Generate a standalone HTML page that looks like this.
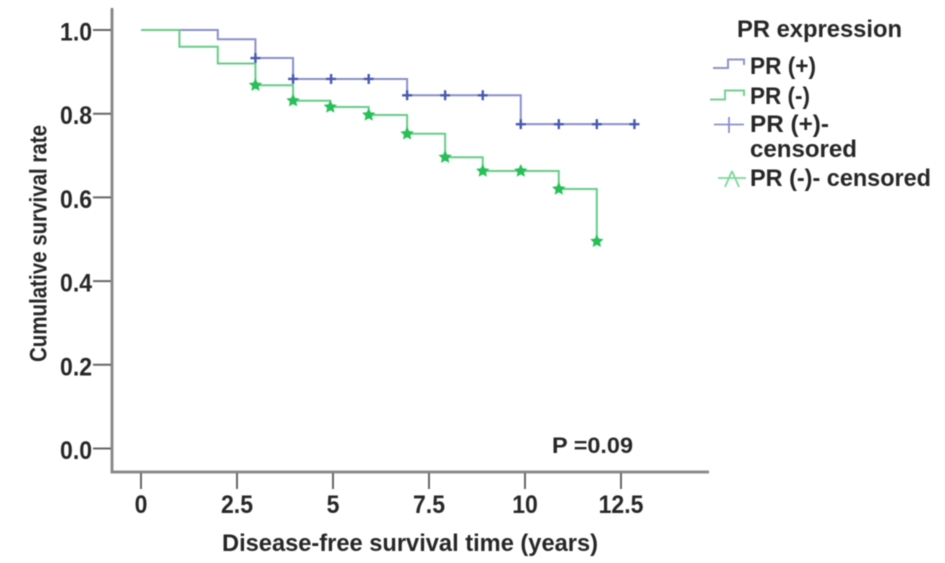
<!DOCTYPE html>
<html>
<head>
<meta charset="utf-8">
<title>Disease-free survival by PR expression</title>
<style>
html,body{margin:0;padding:0;background:#fff;width:945px;height:563px;overflow:hidden}
svg{display:block}
text{font-family:"Liberation Sans",sans-serif;font-weight:bold;fill:#262626}
</style>
</head>
<body>
<svg id="chart" width="945" height="563" viewBox="0 0 945 563" xmlns="http://www.w3.org/2000/svg">
  <defs><filter id="soft" x="-5%" y="-5%" width="110%" height="110%"><feGaussianBlur stdDeviation="0.6"/></filter></defs>
  <g id="root" filter="url(#soft)">
    <g id="axes"></g>
    <g id="series"></g>
    <text transform="translate(46.5,362) rotate(-90)" font-size="24" textLength="237" lengthAdjust="spacingAndGlyphs">Cumulative survival rate</text>
    <text x="222" y="551" font-size="24" textLength="376" lengthAdjust="spacingAndGlyphs">Disease-free survival time (years)</text>
    <text x="552" y="453" font-size="22" textLength="81" lengthAdjust="spacingAndGlyphs">P =0.09</text>
    <g>
      <text x="737" y="37" font-size="24" textLength="165" lengthAdjust="spacingAndGlyphs">PR expression</text>
      <path d="M713 68H728V59.5H744V65" fill="none" stroke="#8f93cc" stroke-width="2"/>
      <text x="750" y="74" font-size="24" textLength="66" lengthAdjust="spacingAndGlyphs">PR (+)</text>
      <path d="M710 99.5H725V90.5H744V96" fill="none" stroke="#74cf92" stroke-width="2"/>
      <text x="750" y="104" font-size="24" textLength="60" lengthAdjust="spacingAndGlyphs">PR (-)</text>
      <path d="M714 124.5H744M729 117V133" fill="none" stroke="#8a90cc" stroke-width="1.8"/>
      <text font-size="24"><tspan x="750" y="132" textLength="79" lengthAdjust="spacingAndGlyphs">PR (+)-</tspan><tspan x="750" y="157" textLength="107" lengthAdjust="spacingAndGlyphs">censored</tspan></text>
      <path d="M718 178H746M732 171L725 187M732 171L739 187" fill="none" stroke="#7cd898" stroke-width="1.8"/>
      <text x="750" y="186" font-size="24" textLength="181" lengthAdjust="spacingAndGlyphs">PR (-)- censored</text>
    </g>
  </g>
</svg>
<script>
// Chart data
const xTickValues = [0, 2.5, 5, 7.5, 10, 12.5];
const xTickLabels = ['0', '2.5', '5', '7.5', '10', '12.5'];
const yTickValues = [0, 0.2, 0.4, 0.6, 0.8, 1.0];
const yTickLabels = ['0.0', '0.2', '0.4', '0.6', '0.8', '1.0'];

const posEventTimes = [0, 2.0, 2.98, 3.96, 6.93, 9.89];
const posSurvival = [1.0, 0.978, 0.933, 0.883, 0.844, 0.775];
const posEndTime = 12.85;
const posCensorTimes = [2.98, 3.96, 4.95, 5.93, 6.93, 7.92, 8.9, 9.89, 10.88, 11.87, 12.85];

const negEventTimes = [0, 1.0, 2.0, 2.98, 3.96, 4.93, 5.93, 6.93, 7.92, 8.9, 10.88, 11.87];
const negSurvival = [1.0, 0.96, 0.92, 0.868, 0.831, 0.816, 0.797, 0.752, 0.696, 0.663, 0.62, 0.495];
const negEndTime = 11.87;
const negCensorTimes = [2.98, 3.96, 4.93, 5.93, 6.93, 7.92, 8.9, 9.89, 10.88, 11.87];

// Axis functions
function xScale(t) { return 141 + t * 38.4; }
function yScale(s) { return 448.5 - s * 418.5; }

const NS = 'http://www.w3.org/2000/svg';
const axes = document.getElementById('axes');
const series = document.getElementById('series');

function make(tag, attrs, parent) {
  const el = document.createElementNS(NS, tag);
  for (const k in attrs) el.setAttribute(k, attrs[k]);
  parent.appendChild(el);
  return el;
}

function survivalAt(times, values, t) {
  let v = values[0];
  for (let i = 0; i < times.length; i++) {
    if (times[i] <= t + 1e-9) v = values[i];
  }
  return v;
}

function stepPath(times, values, end) {
  let d = 'M' + xScale(times[0]) + ' ' + yScale(values[0]);
  for (let i = 1; i < times.length; i++) {
    d += 'H' + xScale(times[i]) + 'V' + yScale(values[i]);
  }
  d += 'H' + xScale(end);
  return d;
}

function starPoints(cx, cy, outer, inner) {
  const pts = [];
  for (let i = 0; i < 10; i++) {
    const r = i % 2 ? inner : outer;
    const a = -Math.PI / 2 + i * Math.PI / 5;
    pts.push((cx + r * Math.cos(a)).toFixed(2) + ',' + (cy + r * Math.sin(a)).toFixed(2));
  }
  return pts.join(' ');
}

// Axis lines
const yAxisLine = make('line', {x1: 112, x2: 112, y1: 8, y2: 472.5, stroke: '#8c8c8c', 'stroke-width': 3}, axes);


const xAxisLine = make('line', {x1: 110.5, x2: 709, y1: 472, y2: 472, stroke: '#8c8c8c', 'stroke-width': 3}, axes);



// Ticks
yTickValues.forEach(function (v, i) {
  const y = yScale(v);
  const tick = make('line', {x1: 93, x2: 111, y1: y, y2: y, stroke: '#666', 'stroke-width': 2}, axes);
  
  
  const label = make('text', {transform: 'translate(92,' + (y + 10.5) + ') scale(0.92,1)', 'text-anchor': 'end', 'font-size': 25}, axes);
  
  
  label.textContent = yTickLabels[i];
});
xTickValues.forEach(function (v, i) {
  const x = xScale(v);
  const tick = make('line', {x1: x, x2: x, y1: 473, y2: 489, stroke: '#666', 'stroke-width': 2}, axes);
  
  
  const label = make('text', {transform: 'translate(' + x + ',513) scale(0.92,1)', 'text-anchor': 'middle', 'font-size': 25}, axes);
  
  
  label.textContent = xTickLabels[i];
});

// Survival curves
const posLine = make('path', {d: stepPath(posEventTimes, posSurvival, posEndTime), fill: 'none', stroke: '#8a8fca', 'stroke-width': 2}, series);


const negLine = make('path', {d: stepPath(negEventTimes, negSurvival, negEndTime), fill: 'none', stroke: '#66cc88', 'stroke-width': 2}, series);



// Censor markers
posCensorTimes.forEach(function (t) {
  const x = xScale(t);
  const y = yScale(survivalAt(posEventTimes, posSurvival, t));
  const mark = make('path', {d: 'M' + (x - 5) + ' ' + y + 'H' + (x + 5) + 'M' + x + ' ' + (y - 5) + 'V' + (y + 5), fill: 'none', stroke: '#4658b0', 'stroke-width': 2.4}, series);
  
  
});
negCensorTimes.forEach(function (t) {
  const x = xScale(t);
  const y = yScale(survivalAt(negEventTimes, negSurvival, t));
  const mark = make('polygon', {points: starPoints(x, y, 7, 3.4), fill: '#27c057'}, series);
  
  
});
</script>
</body>
</html>
